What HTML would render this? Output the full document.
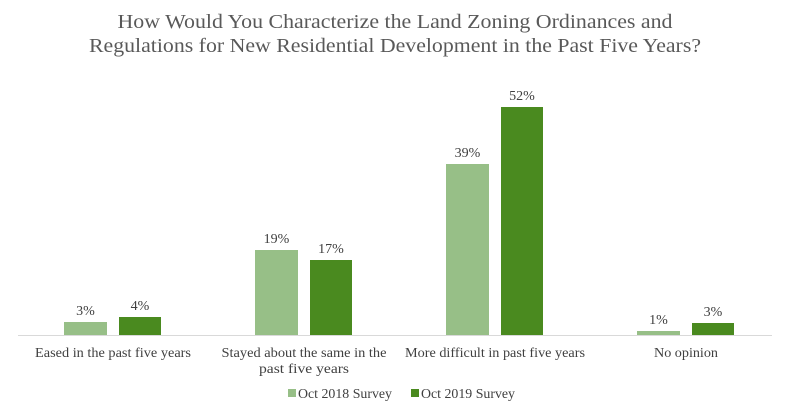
<!DOCTYPE html>
<html><head><style>
body{margin:0;background:#fff;}
svg text{font-family:"Liberation Serif",serif;}
</style></head><body>
<svg width="790" height="407" xmlns="http://www.w3.org/2000/svg">
<text x="395" y="28" text-anchor="middle" font-size="20" fill="#595959" textLength="555" lengthAdjust="spacingAndGlyphs">How Would You Characterize the Land Zoning Ordinances and</text>
<text x="395" y="52" text-anchor="middle" font-size="20" fill="#595959" textLength="612" lengthAdjust="spacingAndGlyphs">Regulations for New Residential Development in the Past Five Years?</text>
<line x1="18" y1="335.5" x2="772" y2="335.5" stroke="#d9d9d9" stroke-width="1"/>
<g fill="#97bf87">
<rect x="64" y="322" width="43" height="13"/>
<rect x="255" y="250" width="43" height="85"/>
<rect x="446" y="164" width="43" height="171"/>
<rect x="637" y="331" width="43" height="4"/>
</g>
<g fill="#4a8a1f">
<rect x="119" y="317" width="42" height="18"/>
<rect x="310" y="260" width="42" height="75"/>
<rect x="501" y="107" width="42" height="228"/>
<rect x="692" y="323" width="42" height="12"/>
</g>
<g font-size="14" fill="#404040" text-anchor="middle">
<text x="85.5" y="315">3%</text>
<text x="140" y="310">4%</text>
<text x="276.5" y="243">19%</text>
<text x="331" y="253">17%</text>
<text x="467.5" y="157">39%</text>
<text x="522" y="100">52%</text>
<text x="658.5" y="324">1%</text>
<text x="713" y="316">3%</text>
</g>
<g font-size="14" fill="#404040" text-anchor="middle">
<text x="113" y="357" textLength="156" lengthAdjust="spacingAndGlyphs">Eased in the past five years</text>
<text x="304" y="357" textLength="165" lengthAdjust="spacingAndGlyphs">Stayed about the same in the</text>
<text x="304" y="373" textLength="90" lengthAdjust="spacingAndGlyphs">past five years</text>
<text x="495" y="357" textLength="180" lengthAdjust="spacingAndGlyphs">More difficult in past five years</text>
<text x="686" y="357" textLength="64" lengthAdjust="spacingAndGlyphs">No opinion</text>
</g>
<rect x="288" y="389" width="8" height="8" fill="#97bf87"/>
<text x="298" y="398" font-size="14" fill="#404040" textLength="94" lengthAdjust="spacingAndGlyphs">Oct 2018 Survey</text>
<rect x="411" y="389" width="8" height="8" fill="#4a8a1f"/>
<text x="421" y="398" font-size="14" fill="#404040" textLength="94" lengthAdjust="spacingAndGlyphs">Oct 2019 Survey</text>
</svg>
</body></html>
